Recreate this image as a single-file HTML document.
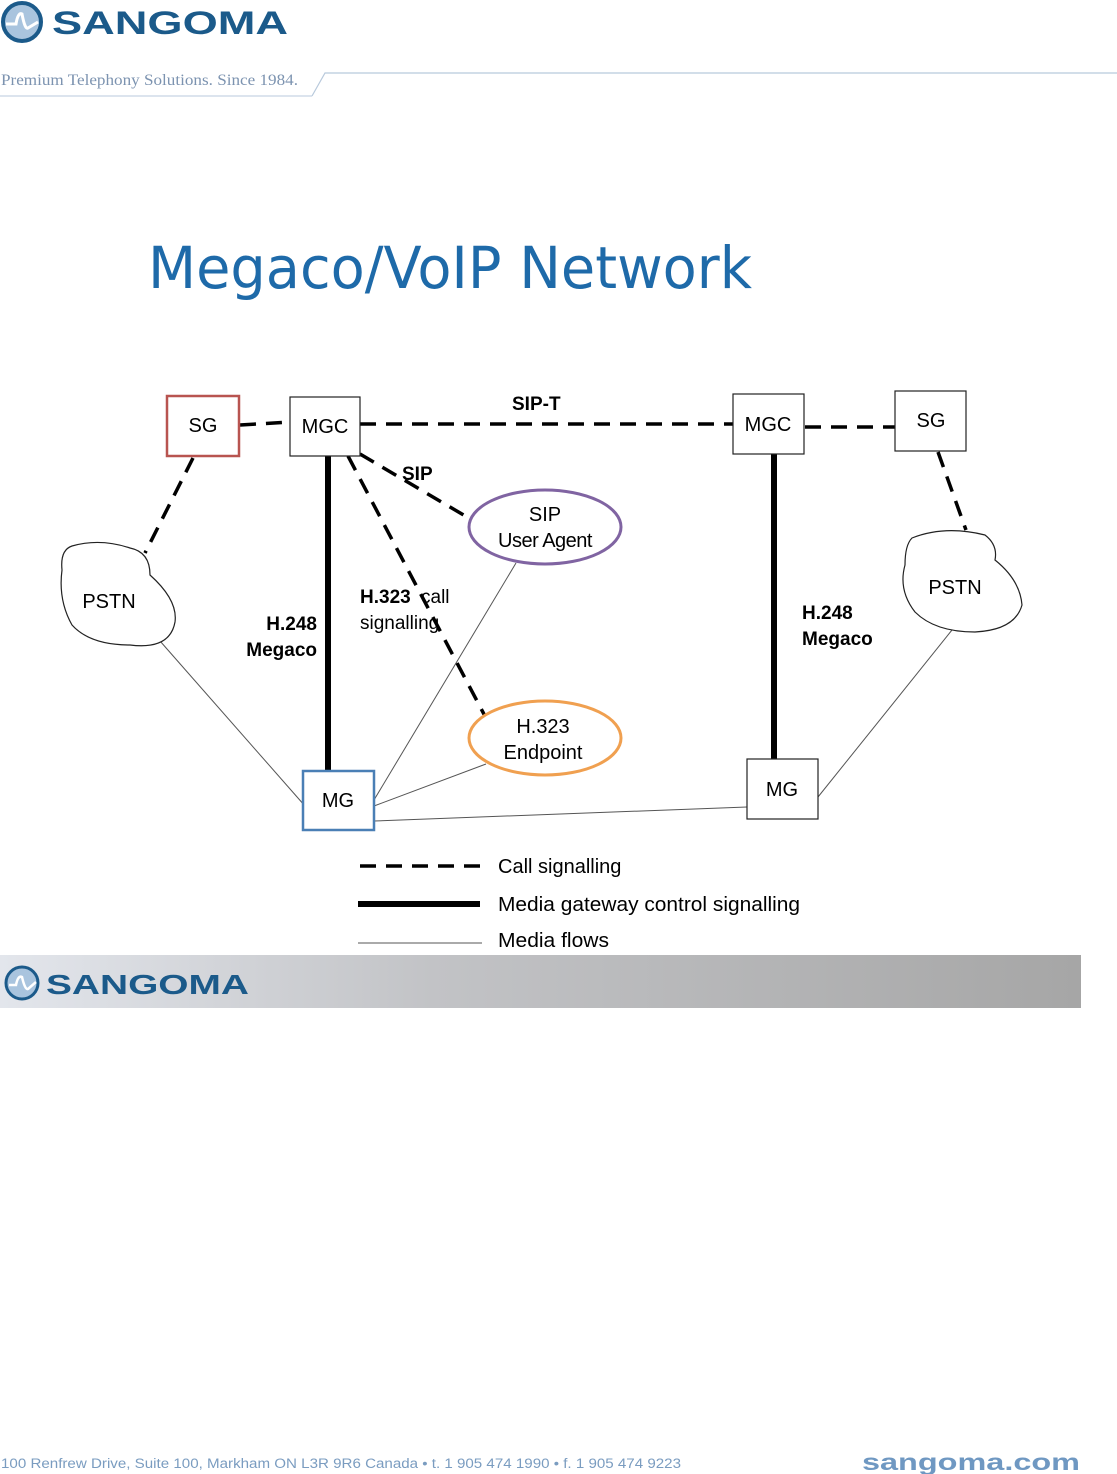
<!DOCTYPE html>
<html><head><meta charset="utf-8"><style>
html,body{margin:0;padding:0;background:#fff;}
svg{display:block;}
</style></head><body>
<svg width="1117" height="1474" viewBox="0 0 1117 1474" xmlns="http://www.w3.org/2000/svg" style="font-family:'Liberation Sans',sans-serif">
<defs>
<linearGradient id="bar" x1="0" x2="1" y1="0" y2="0">
<stop offset="0" stop-color="#e3e6ec"/><stop offset="0.4" stop-color="#c2c3c6"/><stop offset="1" stop-color="#a6a6a6"/>
</linearGradient>
</defs>
<!-- header logo -->
<circle cx="22" cy="22" r="19" fill="#a9c4de" stroke="#1b5a8a" stroke-width="4"/>
<path d="M6 24 L16 24 Q18 12 22 14 Q25 30 28 28 L38 22" fill="none" stroke="#fff" stroke-width="3"/>
<text x="52" y="34" font-size="32" font-weight="bold" fill="#1b5a8a" textLength="236" lengthAdjust="spacingAndGlyphs">SANGOMA</text>
<text x="1" y="85" style="font-family:'Liberation Serif',serif" font-size="16" fill="#7c93b0" textLength="297" lengthAdjust="spacingAndGlyphs">Premium Telephony Solutions. Since 1984.</text>
<path d="M312 96 L325 73 L1117 73" fill="none" stroke="#b8c9dc" stroke-width="1.2"/>
<line x1="0" y1="96" x2="312" y2="96" stroke="#b8c9dc" stroke-width="1"/>
<!-- title -->
<text x="148" y="288" font-size="58" fill="#1e6aa9" style="font-family:'DejaVu Sans',sans-serif" textLength="604" lengthAdjust="spacingAndGlyphs">Megaco/VoIP Network</text>

<!-- media flows -->
<g stroke="#555" stroke-width="1" fill="none">
<line x1="160" y1="641" x2="305" y2="806"/>
<line x1="374" y1="800" x2="516" y2="563"/>
<line x1="374" y1="806" x2="486" y2="764"/>
<line x1="374" y1="821" x2="747" y2="807"/>
<line x1="818" y1="797" x2="952" y2="630"/>
</g>
<line x1="328" y1="456" x2="328" y2="771" stroke="#000" stroke-width="6"/>
<line x1="774" y1="454" x2="774" y2="759" stroke="#000" stroke-width="6"/>
<g stroke="#000" stroke-width="3.5" stroke-dasharray="16,10" fill="none">
<line x1="240" y1="425" x2="290" y2="422"/>
<line x1="360" y1="424" x2="733" y2="424"/>
<line x1="805" y1="427" x2="895" y2="427"/>
<line x1="193" y1="458" x2="145" y2="553"/>
<line x1="938" y1="452" x2="966" y2="530"/>
<line x1="360" y1="454" x2="472" y2="520"/>
<line x1="348" y1="456" x2="486" y2="718"/>
</g>
<rect x="167" y="396" width="72" height="60" fill="#fff" stroke="#b85450" stroke-width="2.5"/>
<text x="203" y="432" font-size="20" text-anchor="middle">SG</text>
<rect x="290" y="397" width="70" height="59" fill="#fff" stroke="#222" stroke-width="1.2"/>
<text x="325" y="433" font-size="20" text-anchor="middle">MGC</text>
<rect x="733" y="394" width="71" height="60" fill="#fff" stroke="#222" stroke-width="1.2"/>
<text x="768" y="431" font-size="20" text-anchor="middle">MGC</text>
<rect x="895" y="391" width="71" height="60" fill="#fff" stroke="#222" stroke-width="1.2"/>
<text x="931" y="427" font-size="20" text-anchor="middle">SG</text>
<rect x="303" y="771" width="71" height="59" fill="#fff" stroke="#4a7fb5" stroke-width="2.5"/>
<text x="338" y="807" font-size="20" text-anchor="middle">MG</text>
<rect x="747" y="759" width="71" height="60" fill="#fff" stroke="#222" stroke-width="1.2"/>
<text x="782" y="796" font-size="20" text-anchor="middle">MG</text>
<ellipse cx="545" cy="527" rx="76" ry="37" fill="#fff" stroke="#8064a2" stroke-width="3"/>
<text x="545" y="521" font-size="20" text-anchor="middle">SIP</text>
<text x="545" y="547" font-size="20" text-anchor="middle" letter-spacing="-0.5">User Agent</text>
<ellipse cx="545" cy="738" rx="76" ry="37" fill="#fff" stroke="#f0a050" stroke-width="3"/>
<text x="543" y="733" font-size="20" text-anchor="middle">H.323</text>
<text x="543" y="759" font-size="20" text-anchor="middle">Endpoint</text>
<path d="M72 546 Q100 538 130 548 Q150 552 150 575 Q178 600 175 622 Q170 650 130 645 Q90 645 72 625 Q58 600 62 570 Q60 550 72 546 Z" fill="#fff" stroke="#222" stroke-width="1.2"/>
<text x="109" y="608" font-size="20" text-anchor="middle">PSTN</text>
<path d="M912 538 Q945 525 985 535 Q998 545 995 560 Q1020 580 1022 605 Q1015 630 975 632 Q935 632 915 612 Q898 590 905 565 Q905 545 912 538 Z" fill="#fff" stroke="#222" stroke-width="1.2"/>
<text x="955" y="594" font-size="20" text-anchor="middle">PSTN</text>
<g font-size="19" font-weight="bold">
<text x="512" y="410">SIP-T</text>
<text x="402" y="480">SIP</text>
<text x="317" y="630" text-anchor="end">H.248</text>
<text x="317" y="656" text-anchor="end">Megaco</text>
<text x="802" y="619">H.248</text>
<text x="802" y="645">Megaco</text>
<text x="360" y="603">H.323</text>
</g>
<text x="421" y="603" font-size="19">call</text>
<text x="360" y="629" font-size="19">signalling</text>
<line x1="360" y1="866" x2="482" y2="866" stroke="#000" stroke-width="3.5" stroke-dasharray="16,10"/>
<line x1="358" y1="904" x2="480" y2="904" stroke="#000" stroke-width="6"/>
<line x1="358" y1="943" x2="482" y2="943" stroke="#555" stroke-width="1"/>
<text x="498" y="873" font-size="20">Call signalling</text>
<text x="498" y="911" font-size="20" textLength="302" lengthAdjust="spacingAndGlyphs">Media gateway control signalling</text>
<text x="498" y="947" font-size="20" textLength="111" lengthAdjust="spacingAndGlyphs">Media flows</text>
<rect x="0" y="955" width="1081" height="53" fill="url(#bar)"/>
<circle cx="22" cy="983" r="16" fill="#a9c4de" stroke="#1b5a8a" stroke-width="3"/>
<path d="M9 985 L16 985 Q18 975 22 977 Q25 990 28 989 L36 982" fill="none" stroke="#fff" stroke-width="2.5"/>
<text x="46" y="994" font-size="28" font-weight="bold" fill="#1b5a8a" textLength="203" lengthAdjust="spacingAndGlyphs">SANGOMA</text>
<text x="1" y="1468" font-size="13.5" fill="#7a9cc0" textLength="680" lengthAdjust="spacingAndGlyphs">100 Renfrew Drive, Suite 100, Markham ON L3R 9R6 Canada  •  t. 1 905 474 1990  •  f. 1 905 474 9223</text>
<text x="862" y="1470" font-size="23" font-weight="bold" fill="#6f98c2" textLength="218" lengthAdjust="spacingAndGlyphs">sangoma.com</text>
</svg>
</body></html>
